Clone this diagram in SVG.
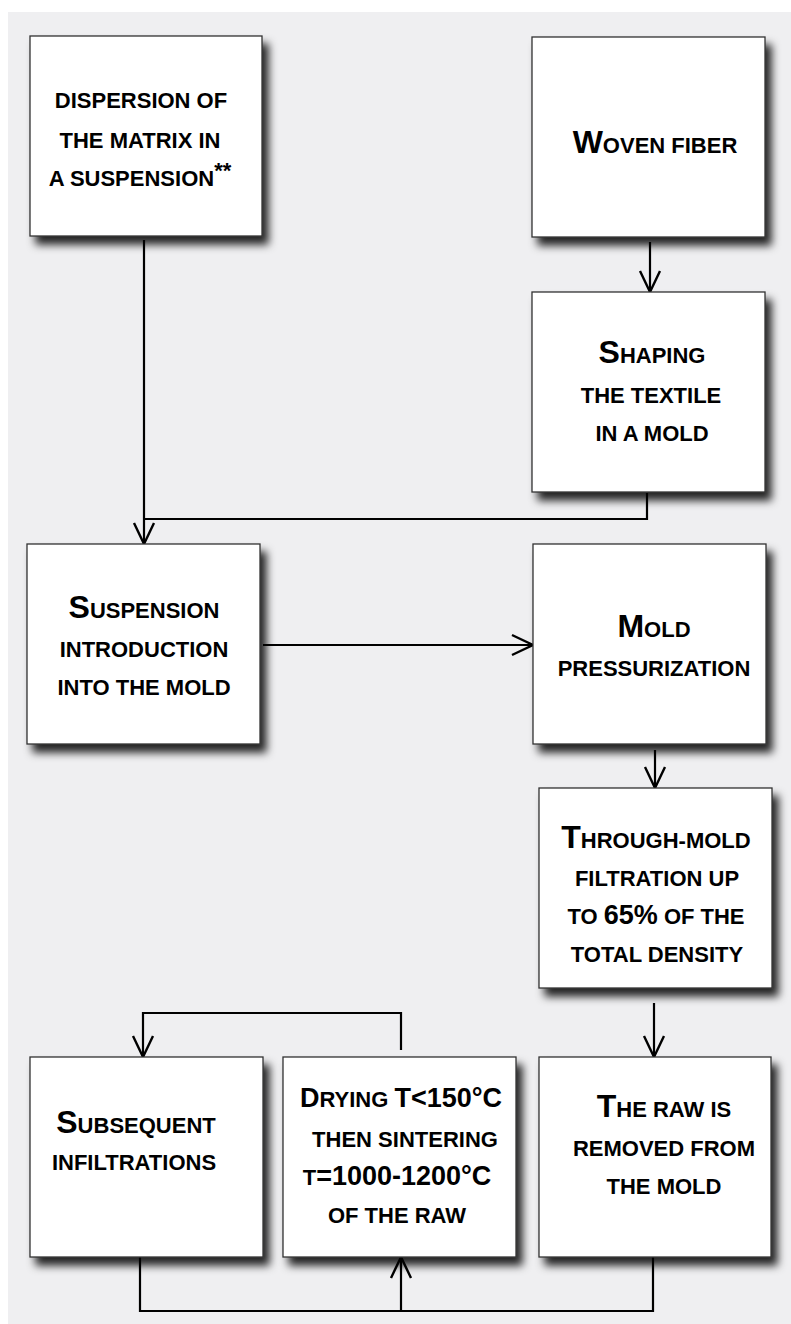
<svg xmlns="http://www.w3.org/2000/svg" width="791" height="1324" viewBox="0 0 791 1324">
<defs>
<filter id="sh" x="-20%" y="-20%" width="150%" height="150%">
<feDropShadow dx="6" dy="8" stdDeviation="4" flood-color="#000" flood-opacity="0.85"/>
</filter>
<marker id="arr" markerUnits="userSpaceOnUse" viewBox="-24 -14 28 28" markerWidth="28" markerHeight="28" refX="0" refY="0" orient="auto">
<path d="M-21,-10 L0,0 L-21,10" fill="none" stroke="#000" stroke-width="2.4"/>
</marker>
</defs>
<style>
.box{fill:#fff;stroke:#333;stroke-width:1.3;filter:url(#sh)}
.t{font-family:"Liberation Sans",Arial,Helvetica,sans-serif;font-size:22px;font-weight:bold;fill:#000;text-anchor:middle}
.b{font-size:32px}
.m{font-size:27px}
.c{fill:none;stroke:#000;stroke-width:2.2}
</style>
<rect x="0" y="0" width="791" height="1324" fill="#fff"/>
<rect x="8" y="12" width="783" height="1312" fill="#efeff1"/>
<g id="connectors">
<path class="c" d="M144,240 L144,544" marker-end="url(#arr)"/>
<path class="c" d="M647,493 L647,519 L144,519"/>
<path class="c" d="M650,242 L650,292" marker-end="url(#arr)"/>
<path class="c" d="M263,645 L533,645" marker-end="url(#arr)"/>
<path class="c" d="M655,750 L655,788" marker-end="url(#arr)"/>
<path class="c" d="M654,1003 L654,1057" marker-end="url(#arr)"/>
<path class="c" d="M401,1050 L401,1013 L143,1013 L143,1057" marker-end="url(#arr)"/>
<path class="c" d="M140,1257 L140,1311 L653,1311 L653,1257"/>
<path class="c" d="M401,1311 L401,1257" marker-end="url(#arr)"/>
</g>
<g id="n1">
<rect class="box" x="30" y="36" width="232" height="200"/>
<text class="t" x="141" y="108">DISPERSION OF</text>
<text class="t" x="140" y="148">THE MATRIX IN</text>
<text class="t" x="140" y="186">A SUSPENSION<tspan dy="-8">**</tspan></text>
</g>
<g id="n2">
<rect class="box" x="532" y="37" width="233" height="200"/>
<text class="t" x="655" y="153"><tspan class="b">W</tspan>OVEN FIBER</text>
</g>
<g id="n3">
<rect class="box" x="532" y="292" width="233" height="200"/>
<text class="t" x="652" y="363"><tspan class="b">S</tspan>HAPING</text>
<text class="t" x="651" y="403">THE TEXTILE</text>
<text class="t" x="652" y="441">IN A MOLD</text>
</g>
<g id="n4">
<rect class="box" x="27" y="544" width="233" height="200"/>
<text class="t" x="144" y="618"><tspan class="b">S</tspan>USPENSION</text>
<text class="t" x="144" y="657">INTRODUCTION</text>
<text class="t" x="144" y="695">INTO THE MOLD</text>
</g>
<g id="n5">
<rect class="box" x="533" y="544" width="233" height="200"/>
<text class="t" x="654" y="637"><tspan class="b">M</tspan>OLD</text>
<text class="t" x="654" y="676">PRESSURIZATION</text>
</g>
<g id="n6">
<rect class="box" x="539" y="788" width="233" height="200"/>
<text class="t" x="656" y="848"><tspan class="b">T</tspan>HROUGH-MOLD</text>
<text class="t" x="657" y="886">FILTRATION UP</text>
<text class="t" x="656" y="924">TO <tspan font-size="27">65%</tspan> OF THE</text>
<text class="t" x="657" y="962">TOTAL DENSITY</text>
</g>
<g id="n7">
<rect class="box" x="30" y="1057" width="233" height="200"/>
<text class="t" x="136" y="1133"><tspan class="b">S</tspan>UBSEQUENT</text>
<text class="t" x="134" y="1170">INFILTRATIONS</text>
</g>
<g id="n8">
<rect class="box" x="283" y="1057" width="233" height="200"/>
<text class="t" x="401" y="1107"><tspan class="m">D</tspan>RYING <tspan class="m">T&lt;150°C</tspan></text>
<text class="t" x="405" y="1147">THEN SINTERING</text>
<text class="t" x="397" y="1185">T<tspan class="m">=1000-1200°C</tspan></text>
<text class="t" x="397" y="1223">OF THE RAW</text>
</g>
<g id="n9">
<rect class="box" x="539" y="1057" width="232" height="200"/>
<text class="t" x="664" y="1117"><tspan class="b">T</tspan>HE RAW IS</text>
<text class="t" x="664" y="1156">REMOVED FROM</text>
<text class="t" x="664" y="1194">THE MOLD</text>
</g>
</svg>
